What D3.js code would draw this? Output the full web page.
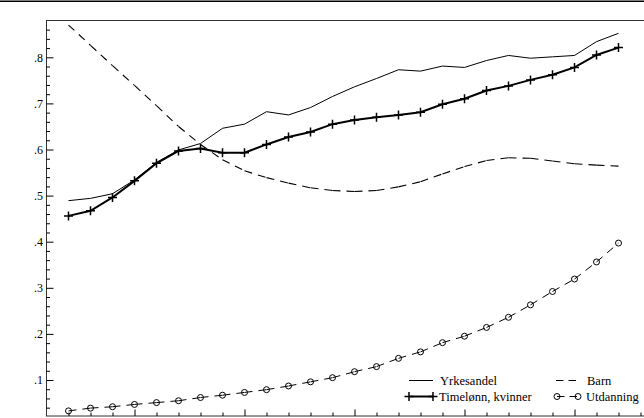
<!DOCTYPE html>
<html>
<head>
<meta charset="utf-8">
<script src="https://cdn.jsdelivr.net/npm/d3@7"></script>
<style>
  html, body { margin: 0; padding: 0; background: #fff; }
  svg { display: block; }
  svg text { font-family: "Liberation Serif", "DejaVu Serif", serif !important; fill: #000; }
</style>
</head>
<body>
<svg id="chart" width="644" height="418"></svg>
<script>
// Annual series, 1972–1997
const years = d3.range(1972, 1998);
const yrkesandel = [0.489, 0.494, 0.504, 0.534, 0.572, 0.599, 0.613, 0.646, 0.655, 0.682,
                    0.675, 0.691, 0.715, 0.736, 0.754, 0.773, 0.770, 0.781, 0.778, 0.793,
                    0.804, 0.798, 0.801, 0.804, 0.834, 0.852];
const timelonn   = [0.456, 0.467, 0.496, 0.532, 0.570, 0.597, 0.602, 0.593, 0.593, 0.611,
                    0.627, 0.638, 0.655, 0.664, 0.670, 0.675, 0.681, 0.698, 0.710, 0.728,
                    0.738, 0.751, 0.762, 0.778, 0.805, 0.821];
const barn       = [0.870, 0.826, 0.782, 0.739, 0.695, 0.650, 0.611, 0.578, 0.554, 0.539,
                    0.527, 0.517, 0.511, 0.509, 0.511, 0.519, 0.530, 0.547, 0.563, 0.576,
                    0.582, 0.581, 0.575, 0.569, 0.566, 0.564];
const utdanning  = [0.033, 0.039, 0.042, 0.047, 0.051, 0.055, 0.062, 0.067, 0.073, 0.079,
                    0.087, 0.096, 0.105, 0.118, 0.129, 0.147, 0.161, 0.181, 0.195, 0.214,
                    0.236, 0.263, 0.292, 0.319, 0.356, 0.397];

// Axis ticks
const yMajorTicks = [0.1, 0.2, 0.3, 0.4, 0.5, 0.6, 0.7, 0.8];
const yTickLabels = [".1", ".2", ".3", ".4", ".5", ".6", ".7", ".8"];
const yMinorTicks = d3.range(2, 44).map(i => i * 0.02).filter(v => Math.abs(v * 10 - Math.round(v * 10)) > 1e-6);
const xMajorTicks = [1975, 1980, 1985, 1990, 1995];
const xMinorTicks = d3.range(1972, 2000).filter(y => y % 5 !== 0);

const legendItems = [
  { label: "Yrkesandel", kind: "solid" },
  { label: "Barn", kind: "dash" },
  { label: "Timelønn, kvinner", kind: "plus" },
  { label: "Utdanning", kind: "circle" }
];

const SERIF = "'Liberation Serif', 'DejaVu Serif', serif";
const svg = d3.select("#chart");
const plot = { left: 46.5, top: 20.5, bottom: 416, right: 700 };

const x = d3.scaleLinear().domain([1971, 2000]).range([46.5, 46.5 + 29 * 22]);
const y = d3.scaleLinear().domain([0, 0.9]).range([426.1, 11.2]);

// Rule across the top of the page
svg.append("line")
  .attr("x1", 0).attr("x2", 644).attr("y1", 1.25).attr("y2", 1.25)
  .attr("stroke", "#000").attr("stroke-width", 1.5);

// Plot frame
svg.append("rect")
  .attr("x", plot.left).attr("y", plot.top)
  .attr("width", plot.right - plot.left).attr("height", plot.bottom - plot.top)
  .attr("fill", "none").attr("stroke", "#333").attr("stroke-width", 1);

// Y axis: minor and major ticks pointing inward
const yMinorAxis = d3.axisLeft(y).tickValues(yMinorTicks).tickSize(-3.5).tickFormat("");
const yMajorAxis = d3.axisLeft(y).tickValues(yMajorTicks).tickSize(-7).tickPadding(3.5)
  .tickFormat((d, i) => yTickLabels[i]);
const gyMinor = svg.append("g").attr("transform", `translate(${plot.left},0)`).call(yMinorAxis);
const gyMajor = svg.append("g").attr("transform", `translate(${plot.left},0)`).call(yMajorAxis);
[gyMinor, gyMajor].forEach(g => {
  g.select(".domain").remove();
  g.attr("font-family", SERIF);
  g.selectAll(".tick line").attr("stroke", "#000");
});
gyMajor.selectAll(".tick text")
  .style("font-family", SERIF)
  .style("font-size", "12px");

// X axis: ticks pointing up from the bottom edge
const xMinorAxis = d3.axisBottom(x).tickValues(xMinorTicks).tickSize(-3.5).tickFormat("");
const xMajorAxis = d3.axisBottom(x).tickValues(xMajorTicks).tickSize(-6.5).tickFormat("");
[xMinorAxis, xMajorAxis].forEach(ax => {
  const g = svg.append("g").attr("transform", `translate(0,${plot.bottom})`).call(ax);
  g.select(".domain").remove();
  g.selectAll(".tick line").attr("stroke", "#000");
});

// Series data as points
const pts = arr => arr.map((v, i) => ({ year: years[i], value: v }));

// Dashed polyline where the dash pattern restarts on every segment
function dashedPolyline(data, width) {
  const g = svg.append("g");
  g.selectAll("line").data(d3.pairs(data)).join("line")
    .attr("x1", d => x(d[0].year)).attr("y1", d => y(d[0].value))
    .attr("x2", d => x(d[1].year)).attr("y2", d => y(d[1].value))
    .attr("stroke", "#000").attr("stroke-width", width)
    .attr("stroke-dasharray", "8,6");
  return g;
}

const line = d3.line().x(d => x(d.year)).y(d => y(d.value));

// Yrkesandel — thin solid
svg.append("path").datum(pts(yrkesandel))
  .attr("d", line).attr("fill", "none").attr("stroke", "#000").attr("stroke-width", 1);

// Barn — dashed
dashedPolyline(pts(barn), 1.1);

// Utdanning — dashed with hollow circles
dashedPolyline(pts(utdanning), 1);
svg.append("g").selectAll("circle").data(pts(utdanning)).join("circle")
  .attr("cx", d => x(d.year)).attr("cy", d => y(d.value)).attr("r", 3)
  .attr("fill", "none").attr("stroke", "#000").attr("stroke-width", 1);

// Timelønn — thick solid with plus markers
svg.append("path").datum(pts(timelonn))
  .attr("d", line).attr("fill", "none").attr("stroke", "#000").attr("stroke-width", 2);
svg.append("g").selectAll("path").data(pts(timelonn)).join("path")
  .attr("transform", d => `translate(${x(d.year)},${y(d.value)})`)
  .attr("d", "M-4.5,0H4.5M0,-4.5V4.5")
  .attr("stroke", "#000").attr("stroke-width", 1.5).attr("fill", "none");

// Legend, two columns by two rows
const legendPos = [
  { x0: 409, x1: 433, tx: 440, y: 380.5 },
  { x0: 556, x1: 576, tx: 587, y: 380.5 },
  { x0: 409, x1: 433, tx: 439, y: 396.5 },
  { x0: 557, x1: 578, tx: 586, y: 396.5 }
];
const lg = svg.append("g");
legendItems.forEach((item, i) => {
  const p = legendPos[i];
  const l = lg.append("line")
    .attr("x1", p.x0).attr("x2", p.x1).attr("y1", p.y).attr("y2", p.y)
    .attr("stroke", "#000").attr("stroke-width", item.kind === "plus" ? 2 : 1);
  if (item.kind === "dash" || item.kind === "circle") l.attr("stroke-dasharray", "7.5,5");
  if (item.kind === "plus") {
    [p.x0, p.x1].forEach(cx => lg.append("path")
      .attr("transform", `translate(${cx},${p.y})`)
      .attr("d", "M-4.5,0H4.5M0,-4.5V4.5")
      .attr("stroke", "#000").attr("stroke-width", 1.5));
  }
  if (item.kind === "circle") {
    [p.x0, p.x1].forEach(cx => lg.append("circle")
      .attr("cx", cx).attr("cy", p.y).attr("r", 3)
      .attr("fill", "none").attr("stroke", "#000").attr("stroke-width", 1));
  }
  lg.append("text")
    .attr("x", p.tx).attr("y", p.y + 4)
    .style("font-family", SERIF)
    .style("font-size", "12.5px")
    .text(item.label);
});
</script>
</body>
</html>
